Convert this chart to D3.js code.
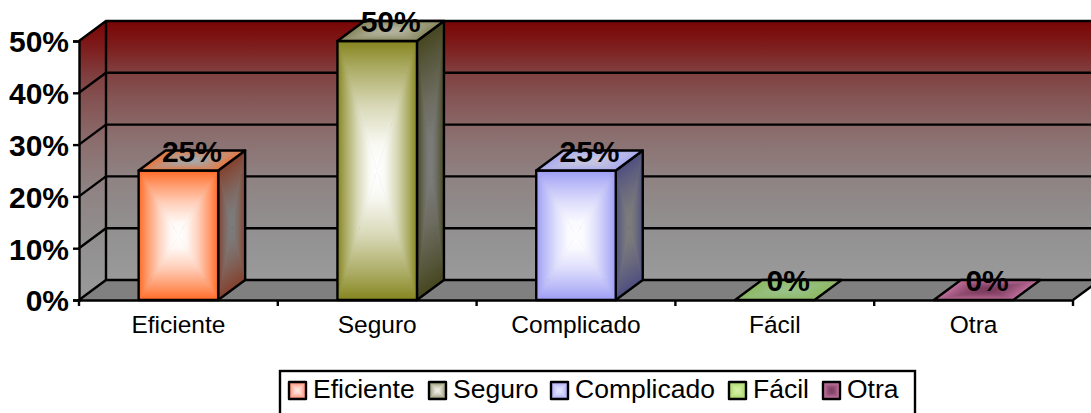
<!DOCTYPE html>
<html>
<head>
<meta charset="utf-8">
<script src="https://cdn.jsdelivr.net/npm/d3@7"></script>
<style>
  html, body { margin: 0; padding: 0; background: #fff; overflow: hidden; }
  text { font-family: "Liberation Sans", Arial, sans-serif; fill: #000; }
</style>
</head>
<body>
<svg width="1091" height="413"></svg>
<script>
var categories = ["Eficiente", "Seguro", "Complicado", "Fácil", "Otra"];
var percents = [25, 50, 25, 0, 0];
var yTicks = [0, 10, 20, 30, 40, 50];

var faceColors = ["#ff6a26", "#85851f", "#9c9cf5", "#8fbf60", "#a85a88"];
var sideColors = ["#84402c", "#46461f", "#4e4e80", "#70904c", "#70304f"];
var topColors = ["#e8743c", "#85855a", "#a8a8f0", "#8cb860", "#c0709c"];
var topCenters = ["#a8a8a8", "#b4b4a0", "#c8c8e0", "#99c288", "#7a3a5c"];
var legendEdges = ["#ff7d5c", "#88885c", "#a4a4f0", "#a2d25e", "#d682b4"];
var legendCenters = ["#ffe6e0", "#ecece4", "#e2e2ff", "#d2f0a4", "#7e3e60"];

var svg = d3.select("svg");
var defs = svg.append("defs");
var dx = 27, dy = -20;
var gradId = 0;
var lineWidth = 2.4;

var x = d3.scaleBand().domain(categories).range([79, 1073]).paddingInner(0.6).paddingOuter(0.3);
var y = d3.scaleLinear().domain([0, 50]).range([300, 41]);

function pts(list) {
  return list.map(function(p) {return p.join(",");}).join(" ");
}

function linearGrad(x1, y1, x2, y2, stops) {
  var id = "g" + (gradId++);
  var g = defs.append("linearGradient").attr("id", id)
    .attr("gradientUnits", "userSpaceOnUse")
    .attr("x1", x1).attr("y1", y1).attr("x2", x2).attr("y2", y2);
  stops.forEach(function(s) {
    g.append("stop").attr("offset", s[0]).attr("stop-color", s[1]);
  });
  return "url(#" + id + ")";
}

// office style "from center" fill: four triangles, each shading from its edge to the middle
function boxFace(g, corners, edge, center) {
  var cx = d3.mean(corners, function(p) {return p[0];});
  var cy = d3.mean(corners, function(p) {return p[1];});
  var mix = d3.interpolateRgb(edge, center);
  var stops = [[0, edge], [0.2, mix(0.3)], [0.5, mix(0.68)], [0.8, mix(0.95)], [1, center]];
  corners.forEach(function(a, i) {
    var b = corners[(i + 1) % corners.length];
    var ex = b[0] - a[0], ey = b[1] - a[1];
    var t = ((cx - a[0]) * ex + (cy - a[1]) * ey) / (ex * ex + ey * ey);
    var fill = linearGrad(a[0] + t * ex, a[1] + t * ey, cx, cy, stops);
    g.append("polygon")
      .attr("points", pts([a, b, [cx, cy]]))
      .attr("fill", fill).attr("stroke", fill).attr("stroke-width", 0.6);
  });
  g.append("polygon").attr("points", pts(corners))
    .attr("fill", "none").attr("stroke", "#000").attr("stroke-width", lineWidth)
    .attr("stroke-linejoin", "round");
}

var left = x.range()[0], right = x.range()[1];
var wallStops = [[0, "#7a0404"], [0.1, "#7e1e1e"], [0.2, "#804040"], [0.3, "#855555"],
                 [0.45, "#8c7070"], [0.6, "#8f8282"], [0.8, "#929090"], [1, "#9a9a9a"]];

// side wall, back wall and floor
svg.append("polygon")
  .attr("points", pts([[left, y(50)], [left + dx, y(50) + dy], [left + dx, y(0) + dy], [left, y(0)]]))
  .attr("fill", linearGrad(0, y(50) + dy, 0, y(0), wallStops));
svg.append("rect")
  .attr("x", left + dx).attr("y", y(50) + dy)
  .attr("width", right - left).attr("height", y(0) - y(50))
  .attr("fill", linearGrad(0, y(50) + dy, 0, y(0) + dy, wallStops));
svg.append("polygon")
  .attr("points", pts([[left, y(0)], [left + dx, y(0) + dy], [right + dx, y(0) + dy], [right, y(0)]]))
  .attr("fill", "#808080");

// grid lines round the walls
var grid = svg.append("g").attr("stroke", "#000").attr("stroke-width", lineWidth).attr("fill", "none");
yTicks.forEach(function(t) {
  grid.append("polyline").attr("points", pts([[left, y(t)], [left + dx, y(t) + dy], [right + dx, y(t) + dy]]));
});
grid.append("line").attr("x1", left + dx).attr("x2", left + dx).attr("y1", y(50) + dy).attr("y2", y(0) + dy);
grid.append("line").attr("x1", right).attr("x2", right + dx).attr("y1", y(0)).attr("y2", y(0) + dy);

// bars
categories.forEach(function(c, i) {
  var g = svg.append("g");
  var x0 = x(c), x1 = x(c) + x.bandwidth();
  var yt = y(percents[i]), yb = y(0);
  if (percents[i] > 0) {
    boxFace(g, [[x1, yt], [x1 + dx, yt + dy], [x1 + dx, yb + dy], [x1, yb]], sideColors[i], "#7c7c7c");
    boxFace(g, [[x0, yt], [x1, yt], [x1, yb], [x0, yb]], faceColors[i], "#ffffff");
  }
  boxFace(g, [[x0, yt], [x0 + dx, yt + dy], [x1 + dx, yt + dy], [x1, yt]], topColors[i], topCenters[i]);
});

// axes
var yAxis = svg.append("g").attr("transform", "translate(" + left + ",0)")
  .call(d3.axisLeft(y).tickValues(yTicks).tickSize(6).tickPadding(4).tickFormat(function(d) {return d + "%";}));
yAxis.selectAll("path, line").attr("stroke", "#000").attr("stroke-width", lineWidth);
yAxis.selectAll("text")
  .style("font-size", "30px").style("font-weight", "bold")
  .attr("dy", "0.36em").attr("fill", "#000");

var xAxis = svg.append("g").attr("transform", "translate(0," + y(0) + ")")
  .call(d3.axisBottom(x).tickSize(0).tickPadding(16));
xAxis.select(".domain").attr("stroke", "#000").attr("stroke-width", lineWidth);
xAxis.selectAll("text").style("font-size", "24.5px").attr("fill", "#000");
d3.range(categories.length + 1).forEach(function(k) {
  xAxis.append("line")
    .attr("x1", left + k * x.step()).attr("x2", left + k * x.step())
    .attr("y1", 0).attr("y2", 6)
    .attr("stroke", "#000").attr("stroke-width", lineWidth);
});

// value labels sit on the top face of each bar
svg.selectAll("text.value")
  .data(percents)
  .enter()
  .append("text")
    .attr("class", "value")
    .attr("x", function(d, i) {return x(categories[i]) + x.bandwidth() / 2 + dx / 2;})
    .attr("y", function(d) {return y(d) + dy / 2 + 1;})
    .attr("text-anchor", "middle")
    .style("font-size", "30px").style("font-weight", "bold")
    .text(function(d) {return d + "%";});

// legend, its bottom edge runs off the picture
var legend = svg.append("g");
legend.append("rect").attr("x", 280).attr("y", 371).attr("width", 635).attr("height", 50)
  .attr("fill", "#fff").attr("stroke", "#000").attr("stroke-width", lineWidth);
var legendX = [289, 429, 551, 729, 823];
categories.forEach(function(c, i) {
  var s = legendX[i], t = 382, w = 17;
  boxFace(legend, [[s, t], [s + w, t], [s + w, t + w], [s, t + w]], legendEdges[i], legendCenters[i]);
  legend.append("text").attr("x", s + w + 7).attr("y", 398).style("font-size", "26.5px").text(c);
});
</script>
</body>
</html>
